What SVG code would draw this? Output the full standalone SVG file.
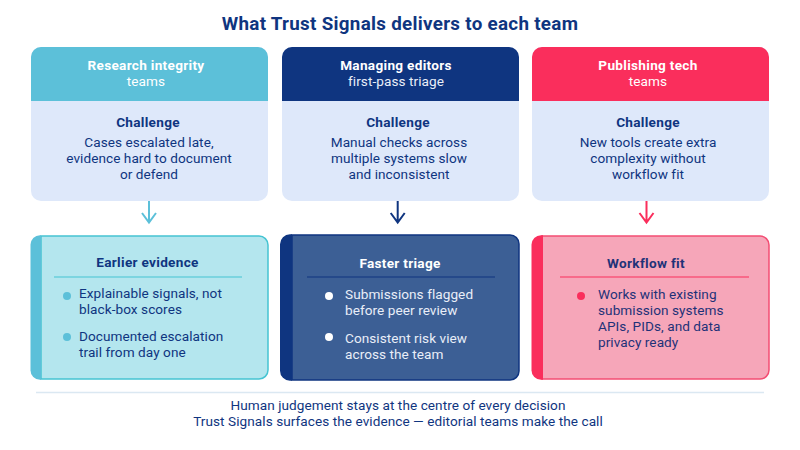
<svg xmlns="http://www.w3.org/2000/svg" width="800" height="450" viewBox="0 0 800 450">
<style>
text{font-family:Roboto,"Noto Sans","Liberation Sans",sans-serif;font-size:13.600px;fill:#0f3580;letter-spacing:.06px}
.m{text-anchor:middle}
.b{font-weight:700;letter-spacing:.3px}
.w{fill:#fff}
.wl{fill:#e9eef8}
.pink{fill:#1f3278}
.conn{fill:none;stroke-width:2}
</style>
<rect width="800" height="450" fill="#fff"/>
<text class="m b" x="400" y="30" style="font-size:18.800px">What Trust Signals delivers to each team</text>

<g id="challenge-research">
<rect x="31" y="47" width="237" height="154" rx="10" fill="#dee8fa"/>
<path d="M31 101V57a10 10 0 0 1 10-10H258a10 10 0 0 1 10 10V101Z" fill="#5cc0d9"/>
<text class="m w" y="70"><tspan class="b" x="146">Research integrity</tspan><tspan x="146" dy="16">teams</tspan></text>
<text class="m b" x="148" y="127">Challenge</text>
<text class="m" y="147"><tspan x="149">Cases escalated late,</tspan><tspan x="149" dy="16">evidence hard to document</tspan><tspan x="149" dy="16">or defend</tspan></text>
</g>
<g id="challenge-editors">
<rect x="282" y="47" width="237" height="154" rx="10" fill="#dee8fa"/>
<path d="M282 101V57a10 10 0 0 1 10-10H509a10 10 0 0 1 10 10V101Z" fill="#0f3580"/>
<text class="m wl" y="70"><tspan class="b w" x="396">Managing editors</tspan><tspan x="396" dy="16">first-pass triage</tspan></text>
<text class="m b" x="398" y="127">Challenge</text>
<text class="m" y="147"><tspan x="399">Manual checks across</tspan><tspan x="399" dy="16">multiple systems slow</tspan><tspan x="399" dy="16">and inconsistent</tspan></text>
</g>
<g id="challenge-tech">
<rect x="532" y="47" width="237" height="154" rx="10" fill="#dee8fa"/>
<path d="M532 101V57a10 10 0 0 1 10-10H759a10 10 0 0 1 10 10V101Z" fill="#fa2e5c"/>
<text class="m w" y="70"><tspan class="b" x="648">Publishing tech</tspan><tspan x="648" dy="16">teams</tspan></text>
<text class="m b" x="648" y="127">Challenge</text>
<text class="m" y="147"><tspan x="648">New tools create extra</tspan><tspan x="648" dy="16">complexity without</tspan><tspan x="648" dy="16">workflow fit</tspan></text>
</g>

<g id="connectors" class="conn">
<path d="M149 201V222M142 213L149 222.500L156 213" stroke="#5cc0d9"/>
<path d="M397.700 201V222M390.700 213L397.700 222.500L404.700 213" stroke="#0f3580"/>
<path d="M646.500 201V222M639.500 213L646.500 222.500L653.500 213" stroke="#fa2e5c"/>
</g>

<g id="outcome-research">
<path d="M41 236H259a9 9 0 0 1 9 9V370a9 9 0 0 1-9 9H41Z" fill="#b4e6ee" stroke="#45c4d2" stroke-width="1.500"/>
<path d="M41 235.300V379.700H40a9.500 9.500 0 0 1-9.500-9.500V244.800a9.500 9.500 0 0 1 9.500-9.500Z" fill="#5cc0d9"/>
<text class="m b" x="147.500" y="267">Earlier evidence</text>
<line x1="54" y1="277" x2="242" y2="277" stroke="#45c4d2" stroke-width="1.200"/>
<circle cx="67" cy="296" r="4" fill="#5cc0d9"/>
<text y="298"><tspan x="79">Explainable signals, not</tspan><tspan x="79" dy="16">black-box scores</tspan></text>
<circle cx="67" cy="337" r="4" fill="#5cc0d9"/>
<text y="341"><tspan x="79">Documented escalation</tspan><tspan x="79" dy="16">trail from day one</tspan></text>
</g>
<g id="outcome-editors">
<path d="M292 235H510a9 9 0 0 1 9 9V371a9 9 0 0 1-9 9H292Z" fill="#3c5f95" stroke="#0f3580" stroke-width="1.500"/>
<path d="M292 234.300V380.700H290a10 10 0 0 1-10-10V244.300a10 10 0 0 1 10-10Z" fill="#0f3580"/>
<text class="m b w" x="400" y="268">Faster triage</text>
<line x1="307" y1="277" x2="495" y2="277" stroke="#0f3580" stroke-width="1.200"/>
<circle cx="329" cy="296" r="4" fill="#fff"/>
<text class="wl" y="299"><tspan x="345">Submissions flagged</tspan><tspan x="345" dy="16">before peer review</tspan></text>
<circle cx="329" cy="337" r="4" fill="#fff"/>
<text class="wl" y="343"><tspan x="345">Consistent risk view</tspan><tspan x="345" dy="16">across the team</tspan></text>
</g>
<g id="outcome-tech">
<path d="M542 236H760a9 9 0 0 1 9 9V370a9 9 0 0 1-9 9H542Z" fill="#f6a6b9" stroke="#f34d73" stroke-width="1.500"/>
<path d="M543 235.300V379.700H541a9.500 9.500 0 0 1-9.500-9.500V244.800a9.500 9.500 0 0 1 9.500-9.500Z" fill="#fa2e5c"/>
<text class="m b pink" x="646" y="268">Workflow fit</text>
<line x1="560" y1="277" x2="749" y2="277" stroke="#fa2e5c" stroke-width="1.200"/>
<circle cx="581" cy="296" r="4" fill="#fa2e5c"/>
<text class="pink" y="299"><tspan x="598">Works with existing</tspan><tspan x="598" dy="16">submission systems</tspan><tspan x="598" dy="16">APIs, PIDs, and data</tspan><tspan x="598" dy="16">privacy ready</tspan></text>
</g>

<g id="footer">
<line x1="36" y1="392.500" x2="764" y2="392.500" stroke="#dbe8f2" stroke-width="1.500"/>
<text class="m" y="410"><tspan x="398">Human judgement stays at the centre of every decision</tspan><tspan x="398" dy="16">Trust Signals surfaces the evidence — editorial teams make the call</tspan></text>
</g>
</svg>
